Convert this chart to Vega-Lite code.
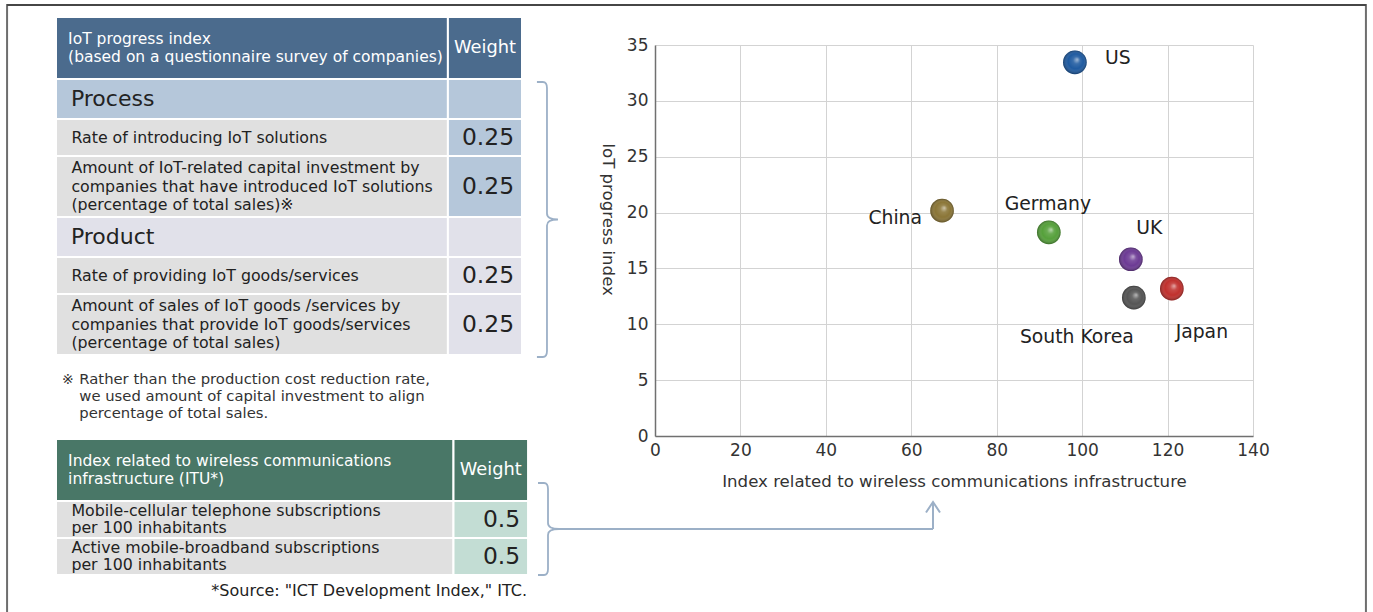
{
  "$schema": "https://vega.github.io/schema/vega-lite/v6.json",
  "width": 598,
  "height": 391,
  "autosize": {"type": "none"},
  "padding": {"left": 655, "top": 45, "right": 120, "bottom": 176},
  "background": "#ffffff",
  "config": {"view": {"stroke": null}, "font": "DejaVu Sans"},
  "datasets": {
    "scores": [
      {"country": "US", "infrastructure": 98.3, "iotProgress": 33.45},
      {"country": "China", "infrastructure": 67.2, "iotProgress": 20.17},
      {"country": "Germany", "infrastructure": 92.2, "iotProgress": 18.23},
      {"country": "UK", "infrastructure": 111.4, "iotProgress": 15.82},
      {"country": "Japan", "infrastructure": 121.0, "iotProgress": 13.19},
      {"country": "South Korea", "infrastructure": 112.1, "iotProgress": 12.38}
    ],
    "indexTables": [
      {"row": 1, "table": "iot", "kind": "header", "group": null, "text": ["IoT progress index", "(based on a questionnaire survey of companies)"], "weight": null},
      {"row": 2, "table": "iot", "kind": "section", "group": "Process", "text": ["Process"], "weight": null},
      {"row": 3, "table": "iot", "kind": "item", "group": "Process", "text": ["Rate of introducing IoT solutions"], "weight": 0.25},
      {"row": 4, "table": "iot", "kind": "item", "group": "Process", "text": ["Amount of IoT-related capital investment by", "companies that have introduced IoT solutions", "(percentage of total sales)※"], "weight": 0.25},
      {"row": 5, "table": "iot", "kind": "section", "group": "Product", "text": ["Product"], "weight": null},
      {"row": 6, "table": "iot", "kind": "item", "group": "Product", "text": ["Rate of providing IoT goods/services"], "weight": 0.25},
      {"row": 7, "table": "iot", "kind": "item", "group": "Product", "text": ["Amount of sales of IoT goods /services by", "companies that provide IoT goods/services", "(percentage of total sales)"], "weight": 0.25},
      {"row": 8, "table": "iot", "kind": "note", "group": null, "text": ["Rather than the production cost reduction rate,", "we used amount of capital investment to align", "percentage of total sales."], "weight": null},
      {"row": 9, "table": "itu", "kind": "header", "group": null, "text": ["Index related to wireless communications", "infrastructure (ITU*)"], "weight": null},
      {"row": 10, "table": "itu", "kind": "item", "group": "ITU", "text": ["Mobile-cellular telephone subscriptions", "per 100 inhabitants"], "weight": 0.5},
      {"row": 11, "table": "itu", "kind": "item", "group": "ITU", "text": ["Active mobile-broadband subscriptions", "per 100 inhabitants"], "weight": 0.5},
      {"row": 12, "table": "itu", "kind": "source", "group": null, "text": ["*Source: \"ICT Development Index,\" ITC."], "weight": null}
    ]
  },
  "layer": [
    {
      "data": {"name": "indexTables"},
      "transform": [
        {"calculate": "datum.kind === 'header' ? 3.1 : datum.kind === 'section' ? 2 : datum.kind === 'note' ? 4.2 : datum.kind === 'source' ? 1.6 : (length(datum.text) > 2 ? 3.05 : 1.85)", "as": "span"},
        {"window": [{"op": "sum", "field": "span", "as": "y1"}], "sort": [{"field": "row", "order": "ascending"}], "frame": [null, 0]},
        {"calculate": "datum.y1 - datum.span", "as": "y0"},
        {"calculate": "(datum.y0 + datum.y1) / 2", "as": "ymid"},
        {"calculate": "datum.kind === 'header' ? 0.45 : datum.kind === 'note' ? 0.425 : datum.table === 'itu' ? 0.425 : 0.4625", "as": "halfLine"},
        {"calculate": "datum.ymid - (length(datum.text) - 1) * datum.halfLine", "as": "ytext"},
        {"calculate": "0", "as": "left"},
        {"calculate": "datum.table === 'itu' ? 1.013 : 1", "as": "right"},
        {"calculate": "datum.table === 'itu' ? 0.853 : 0.841", "as": "split"},
        {"calculate": "(datum.split + datum.right) / 2", "as": "wmid"},
        {"calculate": "datum.right - 0.017", "as": "wx"},
        {"calculate": "datum.kind === 'header' ? 0.026 : datum.kind === 'section' ? 0.032 : datum.kind === 'note' ? 0.05 : 0.033", "as": "tx"},
        {"calculate": "0.0129", "as": "markX"},
        {"calculate": "datum.kind === 'header' ? datum.table + '-head' : datum.kind === 'section' ? datum.group : 'item'", "as": "labelTone"},
        {"calculate": "datum.kind === 'header' ? datum.table + '-head' : datum.group", "as": "weightTone"},
        {"calculate": "-0.105", "as": "frameLeft"},
        {"calculate": "2.811", "as": "frameRight"},
        {"calculate": "-0.6", "as": "frameTop"},
        {"calculate": "31", "as": "frameBottom"},
        {"calculate": "datum.table === 'itu' ? 1.0558 : 1.0536", "as": "braceX"},
        {"calculate": "datum.table === 'itu' ? 25.6 : 10.125", "as": "braceY"},
        {"calculate": "1.075", "as": "arrowStart"},
        {"calculate": "1.882", "as": "arrowX"},
        {"calculate": "24.25", "as": "arrowTop"}
      ],
      "layer": [
        {
          "transform": [{"filter": "datum.row === 1"}],
          "mark": {"type": "rect", "fill": null, "stroke": "#6e6e6e", "strokeWidth": 2},
          "encoding": {
            "x": {"field": "frameLeft", "type": "quantitative", "axis": null, "scale": {"domain": [0, 1], "range": [-599, -133], "zero": false, "nice": false}},
            "x2": {"field": "frameRight"},
            "y": {"field": "frameTop", "type": "quantitative", "axis": null, "scale": {"domain": [0, 29.4], "range": [-28, 560], "zero": false, "nice": false}},
            "y2": {"field": "frameBottom"}
          }
        },
        {
          "transform": [{"filter": "datum.row === 1"}],
          "mark": {"type": "rule", "stroke": "#1e1e1e", "strokeWidth": 1.2},
          "encoding": {
            "x": {"field": "frameLeft", "type": "quantitative", "axis": null},
            "x2": {"field": "frameRight"},
            "y": {"field": "frameTop", "type": "quantitative", "axis": null}
          }
        },
        {
          "transform": [{"filter": "datum.kind === 'header' || datum.kind === 'section' || datum.kind === 'item'"}],
          "mark": {"type": "rect", "stroke": "#ffffff", "strokeWidth": 2},
          "encoding": {
            "x": {"field": "left", "type": "quantitative", "axis": null},
            "x2": {"field": "split"},
            "y": {"field": "y0", "type": "quantitative", "axis": null},
            "y2": {"field": "y1"},
            "fill": {"field": "labelTone", "type": "nominal", "legend": null,
              "scale": {"domain": ["iot-head", "itu-head", "Process", "Product", "item", "ITU"], "range": ["#4b6b8d", "#497767", "#b5c7da", "#e1e1ea", "#e0e0e0", "#c3ddd4"]}}
          }
        },
        {
          "transform": [{"filter": "datum.kind === 'header' || datum.kind === 'section' || datum.kind === 'item'"}],
          "mark": {"type": "rect", "stroke": "#ffffff", "strokeWidth": 2},
          "encoding": {
            "x": {"field": "split", "type": "quantitative", "axis": null},
            "x2": {"field": "right"},
            "y": {"field": "y0", "type": "quantitative", "axis": null},
            "y2": {"field": "y1"},
            "fill": {"field": "weightTone", "type": "nominal", "legend": null}
          }
        },
        {
          "transform": [{"filter": "datum.kind === 'header'"}],
          "mark": {"type": "text", "align": "left", "baseline": "middle", "fontSize": 15.5, "lineHeight": 18, "color": "#ffffff"},
          "encoding": {
            "x": {"field": "tx", "type": "quantitative", "axis": null},
            "y": {"field": "ytext", "type": "quantitative", "axis": null},
            "text": {"field": "text", "type": "nominal"}
          }
        },
        {
          "transform": [{"filter": "datum.kind === 'header'"}],
          "mark": {"type": "text", "align": "center", "baseline": "middle", "fontSize": 17.8, "color": "#ffffff", "text": "Weight"},
          "encoding": {
            "x": {"field": "wmid", "type": "quantitative", "axis": null},
            "y": {"field": "ymid", "type": "quantitative", "axis": null}
          }
        },
        {
          "transform": [{"filter": "datum.kind === 'section'"}],
          "mark": {"type": "text", "align": "left", "baseline": "middle", "fontSize": 22, "color": "#222222"},
          "encoding": {
            "x": {"field": "tx", "type": "quantitative", "axis": null},
            "y": {"field": "ymid", "type": "quantitative", "axis": null},
            "text": {"field": "text", "type": "nominal"}
          }
        },
        {
          "transform": [{"filter": "datum.kind === 'item' && datum.table === 'iot'"}],
          "mark": {"type": "text", "align": "left", "baseline": "middle", "fontSize": 15.8, "lineHeight": 18.5, "color": "#222222"},
          "encoding": {
            "x": {"field": "tx", "type": "quantitative", "axis": null},
            "y": {"field": "ytext", "type": "quantitative", "axis": null},
            "text": {"field": "text", "type": "nominal"}
          }
        },
        {
          "transform": [{"filter": "datum.kind === 'item' && datum.table === 'itu'"}],
          "mark": {"type": "text", "align": "left", "baseline": "middle", "fontSize": 15.8, "lineHeight": 17, "color": "#222222"},
          "encoding": {
            "x": {"field": "tx", "type": "quantitative", "axis": null},
            "y": {"field": "ytext", "type": "quantitative", "axis": null},
            "text": {"field": "text", "type": "nominal"}
          }
        },
        {
          "transform": [{"filter": "datum.kind === 'item'"}],
          "mark": {"type": "text", "align": "right", "baseline": "middle", "fontSize": 23.4, "color": "#222222"},
          "encoding": {
            "x": {"field": "wx", "type": "quantitative", "axis": null},
            "y": {"field": "ymid", "type": "quantitative", "axis": null},
            "text": {"field": "weight", "type": "quantitative", "format": ".2~f"}
          }
        },
        {
          "transform": [{"filter": "datum.kind === 'note'"}],
          "mark": {"type": "text", "align": "left", "baseline": "middle", "fontSize": 14, "color": "#333333", "text": "※"},
          "encoding": {
            "x": {"field": "markX", "type": "quantitative", "axis": null},
            "y": {"field": "ytext", "type": "quantitative", "axis": null}
          }
        },
        {
          "transform": [{"filter": "datum.kind === 'note'"}],
          "mark": {"type": "text", "align": "left", "baseline": "middle", "fontSize": 14.8, "lineHeight": 17, "color": "#333333"},
          "encoding": {
            "x": {"field": "tx", "type": "quantitative", "axis": null},
            "y": {"field": "ytext", "type": "quantitative", "axis": null},
            "text": {"field": "text", "type": "nominal"}
          }
        },
        {
          "transform": [{"filter": "datum.kind === 'source'"}],
          "mark": {"type": "text", "align": "right", "baseline": "middle", "fontSize": 16, "dx": -1, "color": "#222222"},
          "encoding": {
            "x": {"field": "right", "type": "quantitative", "axis": null},
            "y": {"field": "ymid", "type": "quantitative", "axis": null},
            "text": {"field": "text", "type": "nominal"}
          }
        },
        {
          "transform": [{"filter": "datum.row === 1"}],
          "mark": {"type": "point", "shape": "M-0.073,-1L-0.03,-1Q0,-1 0,-0.956L0,-0.044Q0,0 0.08,0Q0,0 0,0.044L0,0.956Q0,1 -0.03,1L-0.073,1", "size": 75625, "filled": false, "stroke": "#9cb0c7", "strokeWidth": 1.8, "opacity": 1},
          "encoding": {
            "x": {"field": "braceX", "type": "quantitative", "axis": null},
            "y": {"field": "braceY", "type": "quantitative", "axis": null}
          }
        },
        {
          "transform": [{"filter": "datum.row === 9"}],
          "mark": {"type": "point", "shape": "M-0.217,-1L-0.087,-1Q0,-1 0,-0.87L0,-0.13Q0,0 0.24,0Q0,0 0,0.13L0,0.87Q0,1 -0.087,1L-0.217,1", "size": 8464, "filled": false, "stroke": "#9cb0c7", "strokeWidth": 1.8, "opacity": 1},
          "encoding": {
            "x": {"field": "braceX", "type": "quantitative", "axis": null},
            "y": {"field": "braceY", "type": "quantitative", "axis": null}
          }
        },
        {
          "transform": [{"filter": "datum.row === 9"}],
          "mark": {"type": "rule", "stroke": "#9cb0c7", "strokeWidth": 2},
          "encoding": {
            "x": {"field": "arrowStart", "type": "quantitative", "axis": null},
            "x2": {"field": "arrowX"},
            "y": {"field": "braceY", "type": "quantitative", "axis": null}
          }
        },
        {
          "transform": [{"filter": "datum.row === 9"}],
          "mark": {"type": "rule", "stroke": "#9cb0c7", "strokeWidth": 2},
          "encoding": {
            "x": {"field": "arrowX", "type": "quantitative", "axis": null},
            "y": {"field": "braceY", "type": "quantitative", "axis": null},
            "y2": {"field": "arrowTop"}
          }
        },
        {
          "transform": [{"filter": "datum.row === 9"}],
          "mark": {"type": "point", "shape": "M-1,1.5L0,0L1,1.5", "size": 196, "filled": false, "stroke": "#9cb0c7", "strokeWidth": 2, "opacity": 1},
          "encoding": {
            "x": {"field": "arrowX", "type": "quantitative", "axis": null},
            "y": {"field": "arrowTop", "type": "quantitative", "axis": null}
          }
        }
      ]
    },
    {
      "data": {"name": "scores"},
      "encoding": {
        "x": {
          "field": "infrastructure", "type": "quantitative",
          "scale": {"domain": [0, 140], "nice": false, "zero": true},
          "axis": {
            "orient": "bottom", "values": [0, 20, 40, 60, 80, 100, 120, 140],
            "title": "Index related to wireless communications infrastructure",
            "grid": true, "gridColor": "#d3d3d3", "gridWidth": 1,
            "domain": true, "domainColor": "#707070", "domainWidth": 1.5,
            "ticks": false, "tickSize": 0,
            "labelFont": "DejaVu Sans", "labelFontSize": 17, "labelColor": "#333333", "labelPadding": 6,
            "labelFlush": false, "labelOverlap": false,
            "titleFont": "DejaVu Sans", "titleFontSize": 16.6, "titleFontWeight": "normal", "titleColor": "#333333",
            "titleBaseline": "middle", "titleAlign": "center", "titleX": 299, "titleY": 45
          }
        },
        "y": {
          "field": "iotProgress", "type": "quantitative",
          "scale": {"domain": [0, 35], "nice": false, "zero": true},
          "axis": {
            "orient": "left", "values": [0, 5, 10, 15, 20, 25, 30, 35],
            "title": "IoT progress index",
            "grid": true, "gridColor": "#d3d3d3", "gridWidth": 1,
            "domain": true, "domainColor": "#707070", "domainWidth": 1.5,
            "ticks": false, "tickSize": 0,
            "labelFont": "DejaVu Sans", "labelFontSize": 17, "labelColor": "#333333", "labelPadding": 7,
            "labelFlush": false, "labelOverlap": false,
            "titleFont": "DejaVu Sans", "titleFontSize": 16.6, "titleFontWeight": "normal", "titleColor": "#333333",
            "titleAngle": 90, "titleBaseline": "middle", "titleAlign": "center", "titleX": -48, "titleY": 174
          }
        }
      },
      "layer": [
        {
          "mark": {"type": "circle", "size": 560, "opacity": 1},
          "encoding": {
            "color": {"field": "country", "type": "nominal", "legend": null,
              "scale": {"domain": ["US", "China", "Germany", "UK", "Japan", "South Korea"], "range": ["#1e5aa0", "#8a7536", "#55a03a", "#6c3a94", "#c0302d", "#555555"]}}
          }
        },
        {
          "mark": {"type": "circle", "size": 560, "opacity": 1,
            "fill": {"gradient": "radial", "x1": 0.6, "y1": 0.38, "r1": 0, "x2": 0.5, "y2": 0.5, "r2": 0.5,
              "stops": [
                {"offset": 0, "color": "rgba(255,255,255,0.6)"},
                {"offset": 0.3, "color": "rgba(255,255,255,0.12)"},
                {"offset": 0.65, "color": "rgba(255,255,255,0)"},
                {"offset": 1, "color": "rgba(0,0,0,0.32)"}
              ]}}
        },
        {
          "transform": [{"filter": "datum.country === 'US'"}],
          "mark": {"type": "text", "align": "left", "baseline": "middle", "dx": 30, "dy": -4, "fontSize": 18.8, "color": "#222222"},
          "encoding": {"text": {"field": "country", "type": "nominal"}}
        },
        {
          "transform": [{"filter": "datum.country === 'China'"}],
          "mark": {"type": "text", "align": "right", "baseline": "middle", "dx": -20, "dy": 7, "fontSize": 18.8, "color": "#222222"},
          "encoding": {"text": {"field": "country", "type": "nominal"}}
        },
        {
          "transform": [{"filter": "datum.country === 'Germany'"}],
          "mark": {"type": "text", "align": "center", "baseline": "middle", "dx": -1, "dy": -28, "fontSize": 18.8, "color": "#222222"},
          "encoding": {"text": {"field": "country", "type": "nominal"}}
        },
        {
          "transform": [{"filter": "datum.country === 'UK'"}],
          "mark": {"type": "text", "align": "center", "baseline": "middle", "dx": 18.5, "dy": -31.5, "fontSize": 18.8, "color": "#222222"},
          "encoding": {"text": {"field": "country", "type": "nominal"}}
        },
        {
          "transform": [{"filter": "datum.country === 'Japan'"}],
          "mark": {"type": "text", "align": "center", "baseline": "middle", "dx": 30, "dy": 43.5, "fontSize": 18.8, "color": "#222222"},
          "encoding": {"text": {"field": "country", "type": "nominal"}}
        },
        {
          "transform": [{"filter": "datum.country === 'South Korea'"}],
          "mark": {"type": "text", "align": "center", "baseline": "middle", "dx": -57, "dy": 39, "fontSize": 18.8, "color": "#222222"},
          "encoding": {"text": {"field": "country", "type": "nominal"}}
        }
      ]
    }
  ],
  "resolve": {"scale": {"x": "independent", "y": "independent"}}
}
